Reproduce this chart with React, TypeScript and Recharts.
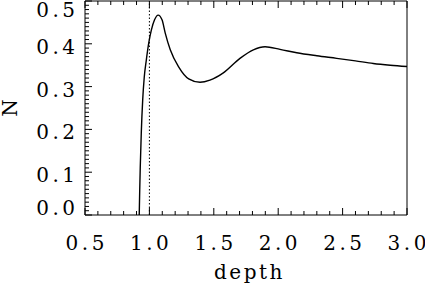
import React from 'react';
import { LineChart, Line, XAxis, YAxis, ReferenceLine, Label } from 'recharts';

const depth = [0.921, 0.925, 0.929, 0.937, 0.948, 0.96, 0.976, 0.995, 1.015, 1.04, 1.068, 1.098, 1.123, 1.162, 1.227, 1.305, 1.393, 1.47, 1.574, 1.703, 1.807, 1.898, 2.014, 2.144, 2.3, 2.454, 2.6, 2.738, 2.87, 3.0];
const nValues = [0.0, 0.06, 0.112, 0.192, 0.269, 0.322, 0.362, 0.402, 0.432, 0.456, 0.467, 0.456, 0.425, 0.386, 0.346, 0.318, 0.31, 0.315, 0.332, 0.366, 0.386, 0.393, 0.387, 0.379, 0.372, 0.366, 0.36, 0.354, 0.35, 0.347];

const xMajorTicks = [0.5, 1.0, 1.5, 2.0, 2.5, 3.0];
const yMajorTicks = [0.0, 0.1, 0.2, 0.3, 0.4, 0.5];
const xDomain: [number, number] = [0.5, 3.0];
const yDomain: [number, number] = [0.0, 0.5];
const xMinorStep = 0.1;
const yMinorStep = 0.01;
const markerDepth = 1.0;
const xTitle = 'depth';
const yTitle = 'N';

const data = depth.map((d, i) => ({ depth: d, n: nValues[i] }));

const buildTicks = (lo: number, hi: number, step: number) => {
  const count = Math.round((hi - lo) / step);
  return Array.from({ length: count + 1 }, (_, i) => +(lo + i * step).toFixed(4));
};
const xTicks = buildTicks(xDomain[0], xDomain[1], xMinorStep);
const yTicks = buildTicks(yDomain[0], yDomain[1], yMinorStep);
const isMajor = (v: number, majors: number[]) => majors.some((m) => Math.abs(m - v) < 1e-6);

const FONT = "'DejaVu Serif', serif";
const FS = 20;
const LS = 3.5;
const MAJOR = 7;
const MINOR = 4;
const PLOT_TOP = 1;
const PLOT_BOTTOM = 215;

const BottomTick = (props: any) => {
  const { x, y, payload } = props;
  const major = isMajor(payload.value, xMajorTicks);
  return (
    <g>
      <line x1={x} y1={y} x2={x} y2={y - (major ? MAJOR : MINOR)} stroke="#000" strokeWidth={1} />
      {major && (
        <text x={x + LS / 2} y={y + 35} textAnchor="middle" fontFamily={FONT} fontSize={FS} fill="#000" style={{ letterSpacing: `${LS}px` }}>
          {payload.value.toFixed(1)}
        </text>
      )}
    </g>
  );
};

const TopTick = (props: any) => {
  const { x, y, payload } = props;
  const major = isMajor(payload.value, xMajorTicks);
  return <line x1={x} y1={y} x2={x} y2={y + (major ? MAJOR : MINOR)} stroke="#000" strokeWidth={1} />;
};

const LeftTick = (props: any) => {
  const { x, y, payload } = props;
  const major = isMajor(payload.value, yMajorTicks);
  const ty = Math.min(Math.max(y + 10, PLOT_TOP + 16), PLOT_BOTTOM);
  return (
    <g>
      <line x1={x} y1={y} x2={x + (major ? MAJOR : MINOR)} y2={y} stroke="#000" strokeWidth={1} />
      {major && (
        <text x={x - 10 + LS} y={ty} textAnchor="end" fontFamily={FONT} fontSize={FS} fill="#000" style={{ letterSpacing: `${LS}px` }}>
          {payload.value.toFixed(1)}
        </text>
      )}
    </g>
  );
};

const RightTick = (props: any) => {
  const { x, y, payload } = props;
  const major = isMajor(payload.value, yMajorTicks);
  return <line x1={x} y1={y} x2={x - (major ? MAJOR : MINOR)} y2={y} stroke="#000" strokeWidth={1} />;
};

const XTitle = () => (
  <text x={249.5} y={279} textAnchor="middle" fontFamily={FONT} fontSize={FS} fill="#000" style={{ letterSpacing: '2.5px' }}>
    {xTitle}
  </text>
);

const YTitle = () => (
  <text x={16.5} y={108} transform="rotate(-90 16.5 108)" textAnchor="middle" fontFamily={FONT} fontSize={FS} fill="#000">
    {yTitle}
  </text>
);

export default function App() {
  return (
    <div style={{ position: 'absolute', left: 0, top: 0, background: '#fff' }}>
      <LineChart width={425} height={288} data={data} margin={{ top: 0, right: 17, bottom: 0, left: 0 }}>
        <XAxis
          xAxisId="b"
          dataKey="depth"
          type="number"
          domain={xDomain}
          ticks={xTicks}
          interval={0}
          tickSize={0}
          tickMargin={0}
          height={73}
          tickLine={false}
          axisLine={{ stroke: '#000', strokeWidth: 1 }}
          tick={(p: any) => <BottomTick {...p} />}
        >
          <Label content={<XTitle />} />
        </XAxis>
        <XAxis
          xAxisId="t"
          orientation="top"
          dataKey="depth"
          type="number"
          domain={xDomain}
          ticks={xTicks}
          interval={0}
          tickSize={0}
          tickMargin={0}
          height={1}
          tickLine={false}
          axisLine={{ stroke: '#000', strokeWidth: 1 }}
          tick={(p: any) => <TopTick {...p} />}
        />
        <YAxis
          yAxisId="l"
          type="number"
          domain={yDomain}
          ticks={yTicks}
          interval={0}
          tickSize={0}
          tickMargin={0}
          width={85}
          tickLine={false}
          axisLine={{ stroke: '#000', strokeWidth: 1 }}
          tick={(p: any) => <LeftTick {...p} />}
        >
          <Label content={<YTitle />} />
        </YAxis>
        <YAxis
          yAxisId="r"
          orientation="right"
          type="number"
          domain={yDomain}
          ticks={yTicks}
          interval={0}
          tickSize={0}
          tickMargin={0}
          width={1}
          tickLine={false}
          axisLine={{ stroke: '#000', strokeWidth: 1 }}
          tick={(p: any) => <RightTick {...p} />}
        />
        <ReferenceLine xAxisId="b" yAxisId="l" x={markerDepth} stroke="#000" strokeWidth={1} strokeDasharray="1.5 2" />
        <Line
          xAxisId="b"
          yAxisId="l"
          dataKey="n"
          type="monotone"
          stroke="#000"
          strokeWidth={1.4}
          dot={false}
          activeDot={false}
          isAnimationActive={false}
        />
      </LineChart>
    </div>
  );
}
